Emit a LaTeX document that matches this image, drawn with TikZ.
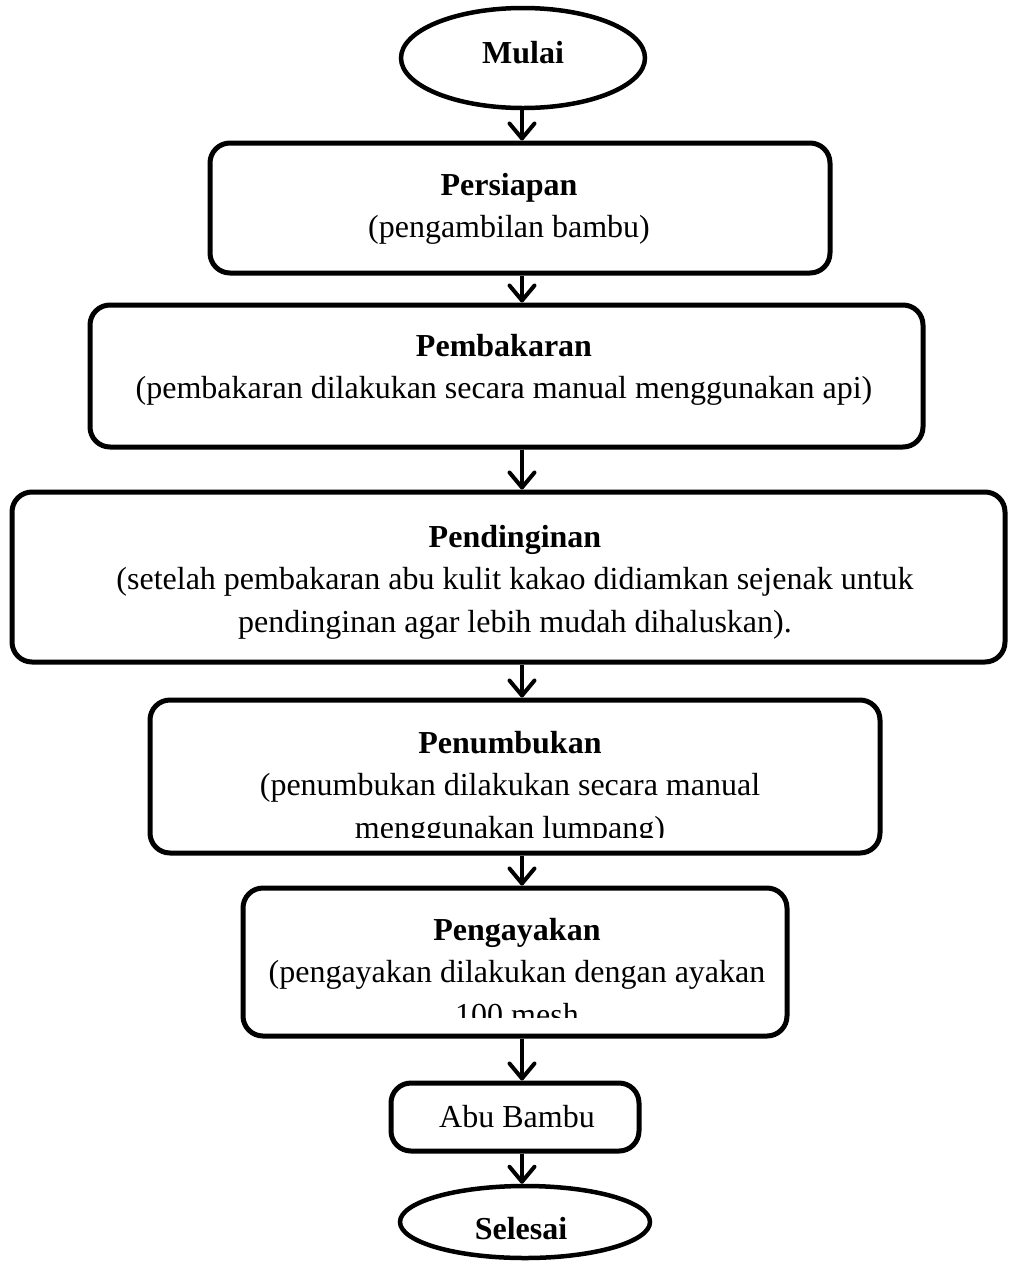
\documentclass[tikz,border=0pt]{standalone}
\usepackage{fontspec}
\setmainfont{Liberation Serif}
\usetikzlibrary{shapes.geometric,arrows.meta}

\newlength\pxu
\setlength\pxu{0.4pt}

\tikzset{
  stepbox/.style={draw, line width=2pt, rounded corners=8pt, inner sep=0pt},
  endpoint/.style={draw, ellipse, line width=1.8pt, inner sep=0pt},
  steptext/.style={align=center, inner sep=0pt,
    font=\fontsize{12.8}{17}\selectfont},
  flowarrow/.style={line width=1.6pt,
    -{Straight Barb[length=6pt,width=10pt,line width=1.6pt,round]}},
}

\begin{document}
\begin{tikzpicture}[x=0.4pt, y=-0.4pt]
\useasboundingbox (0,0) rectangle (1008,1261);

% --- Start and end
\node[endpoint, minimum width=244\pxu, minimum height=100\pxu] (mulai) at (523,58) {};
\node[steptext, font=\fontsize{12.8}{17}\selectfont\bfseries] (mulaiText) at (523,53) {Mulai};

\node[endpoint, minimum width=250\pxu, minimum height=72\pxu] (selesai) at (525,1222) {};
\node[steptext, font=\fontsize{12.8}{17}\selectfont\bfseries] (selesaiText) at (521,1229) {Selesai};

% --- Process boxes
\node[stepbox, minimum width=620\pxu, minimum height=130\pxu] (persiapan) at (520,208) {};
\node[stepbox, minimum width=833\pxu, minimum height=142\pxu] (pembakaran) at (506.5,376) {};
\node[stepbox, minimum width=993\pxu, minimum height=170\pxu] (pendinginan) at (508.5,577) {};
\node[stepbox, minimum width=730\pxu, minimum height=153\pxu] (penumbukan) at (515,776.5) {};
\node[stepbox, minimum width=544\pxu, minimum height=148\pxu] (pengayakan) at (515,962) {};
\node[stepbox, minimum width=248\pxu, minimum height=68\pxu] (abu) at (515,1117) {};

% --- Box texts
\node[steptext] (persiapanText) at (509,209) {\textbf{Persiapan}\\(pengambilan bambu)};
\node[steptext] (pembakaranText) at (504,370) {\textbf{Pembakaran}\\(pembakaran dilakukan secara manual menggunakan api)};
\node[steptext] (pendinginanText) at (515,582) {\textbf{Pendinginan}\\(setelah pembakaran abu kulit kakao didiamkan sejenak untuk\\pendinginan agar lebih mudah dihaluskan).};
\begin{scope}
  \clip (150,700) rectangle (880,837);
  \node[steptext] (penumbukanText) at (510,788) {\textbf{Penumbukan}\\(penumbukan dilakukan secara manual\\menggunakan lumpang)};
\end{scope}
\begin{scope}
  \clip (243,888) rectangle (787,1017);
  \node[steptext] (pengayakanText) at (517,972) {\textbf{Pengayakan}\\(pengayakan dilakukan dengan ayakan\\100 mesh};
\end{scope}
\node[steptext] (abuText) at (517,1117) {Abu Bambu};

% --- Connectors
\coordinate (spine) at (522,0);
\draw[flowarrow] (mulai.south -| spine) -- (persiapan.north -| spine);
\draw[flowarrow] (persiapan.south -| spine) -- (pembakaran.north -| spine);
\draw[flowarrow] (pembakaran.south -| spine) -- (pendinginan.north -| spine);
\draw[flowarrow] (pendinginan.south -| spine) -- (penumbukan.north -| spine);
\draw[flowarrow] (penumbukan.south -| spine) -- (pengayakan.north -| spine);
\draw[flowarrow] (pengayakan.south -| spine) -- (abu.north -| spine);
\draw[flowarrow] (abu.south -| spine) -- (selesai.north -| spine);

\end{tikzpicture}
\end{document}
